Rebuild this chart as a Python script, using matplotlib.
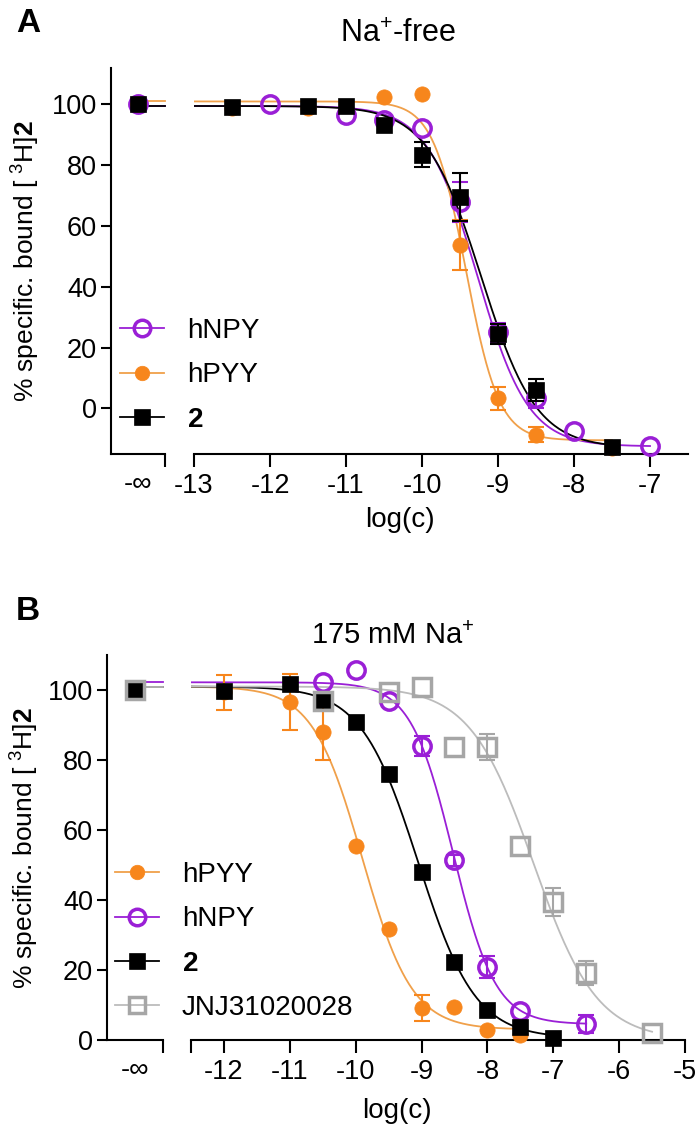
import numpy as np
import matplotlib.pyplot as plt
from matplotlib.lines import Line2D

plt.rcParams['font.family'] = ['Liberation Sans', 'DejaVu Sans']
plt.rcParams['mathtext.fontset'] = 'custom'
plt.rcParams['mathtext.rm'] = 'Liberation Sans'
plt.rcParams['mathtext.it'] = 'Liberation Sans:italic'
plt.rcParams['mathtext.bf'] = 'Liberation Sans:bold'
plt.rcParams['axes.unicode_minus'] = False
plt.rcParams['font.size'] = 19.5

PURPLE = '#9a1fd6'
ORANGE = '#f7861c'
ORANGE_LINE = '#f0a04a'
GREY = '#a6a6a6'
GREY_LINE = '#bcbcbc'

# ---- panel A: Na+-free ----
a_npy_x = [-12, -11, -10.5, -10, -9.5, -9, -8.5, -8, -7]
a_npy_y = [100, 96.7, 95, 92.4, 68, 25, 3.3, -7.3, -12.5]
a_npy_err = [0, 0, 0, 0, 6.6, 3, 3.3, 0, 0]
a_npy_inf = 100
a_npy_fit = (99.5, -12.5, -9.27, 1.3)   # top, bottom, logIC50, hill

a_pyy_x = [-12.5, -11.5, -10.5, -10, -9.5, -9, -8.5, -7.5]
a_pyy_y = [99, 99, 102.6, 103.5, 53.8, 3.3, -8.6, -13]
a_pyy_err = [0, 0, 0, 0, 8.3, 3.7, 2.4, 0]
a_pyy_inf = 100
a_pyy_fit = (101, -10.5, -9.42, 2.0)

a_two_x = [-12.5, -11.5, -11, -10.5, -10, -9.5, -9, -8.5, -7.5]
a_two_y = [99.3, 99.5, 99.5, 93.4, 83.5, 69.6, 24.4, 6, -12.8]
a_two_err = [0, 0, 0, 0, 4, 7.8, 3.3, 3.6, 0]
a_two_inf = 100
a_two_fit = (99.5, -13, -9.22, 1.2)

# ---- panel B: 175 mM Na+ ----
b_pyy_x = [-12, -11, -10.5, -10, -9.5, -9, -8.5, -8, -7.5]
b_pyy_y = [99.4, 96.6, 88, 55.3, 31.8, 9.2, 9.5, 2.9, 1.4]
b_pyy_err = [5, 8, 8, 0, 0, 3.7, 0, 0, 0]
b_pyy_inf = 100
b_pyy_fit = (101, 3, -9.9, 1.15)

b_npy_x = [-10.5, -10, -9.5, -9, -8.5, -8, -7.5, -6.5]
b_npy_y = [102.2, 105.7, 96.8, 84, 51.3, 20.9, 8.3, 4.6]
b_npy_err = [0, 0, 0, 2.8, 1.5, 3.1, 0, 2.6]
b_npy_inf = 100
b_npy_fit = (102.2, 4.5, -8.52, 1.35)

b_two_x = [-12, -11, -10.5, -10, -9.5, -9, -8.5, -8, -7.5, -7]
b_two_y = [99.7, 101.7, 97.1, 90.8, 75.9, 47.9, 22.3, 8.6, 3.8, 0.5]
b_two_err = [0, 0, 0, 0, 0, 0, 0, 0, 0, 0]
b_two_inf = 100
b_two_fit = (101, 0.5, -9.05, 1.0)

b_jnj_x = [-10.5, -9.5, -9, -8.5, -8, -7.5, -7, -6.5, -5.5]
b_jnj_y = [96.8, 99.4, 100.9, 83.7, 83.7, 55.3, 39.5, 19.2, 2]
b_jnj_err = [0, 0, 0, 0, 3.7, 0, 4, 3.5, 0]
b_jnj_inf = 100
b_jnj_fit = (101, 0, -7.3, 0.9)

a_xticks = [-13, -12, -11, -10, -9, -8, -7]
b_xticks = [-12, -11, -10, -9, -8, -7, -6, -5]
yticks = [0, 20, 40, 60, 80, 100]

STYLES = {
    'npy': dict(color=PURPLE, line=PURPLE, marker='o', ms=12.5, mfc='none',
                mew=2.5, label='hNPY'),
    'pyy': dict(color=ORANGE, line=ORANGE_LINE, marker='o', ms=11, mfc=ORANGE,
                mew=0.5, label='hPYY'),
    'two': dict(color='black', line='black', marker='s', ms=11.5,
                mfc='black', mew=0.5, label=r'$\mathbf{2}$'),
    'jnj': dict(color=GREY, line=GREY_LINE, marker='s', ms=12.5, mfc='none',
                mew=2.5, label='JNJ31020028'),
}


def four_pl(x, top, bottom, logic50, hill):
    return bottom + (top - bottom) / (1 + 10 ** ((x - logic50) * hill))


def setup_axes(fig, rect_inf, rect_main, xlim, ylim, xticks, end_tick=None):
    ax_inf = fig.add_axes(rect_inf)
    ax_main = fig.add_axes(rect_main)
    for ax in (ax_inf, ax_main):
        ax.set_ylim(ylim)
        ax.spines['top'].set_visible(False)
        ax.spines['right'].set_visible(False)
        ax.spines['bottom'].set_linewidth(1.5)
        ax.spines['left'].set_linewidth(1.5)
        ax.patch.set_visible(False)
    ax_inf.set_xlim(0, 1)
    ax_inf.set_xticks([1.0])
    ax_inf.set_xticklabels([''])
    ax_inf.set_xticks([0.5], minor=True)
    ax_inf.set_xticklabels(['-∞'], minor=True)
    ax_inf.tick_params(axis='x', which='major', length=9, width=1.5)
    ax_inf.tick_params(axis='x', which='minor', length=0, pad=12)
    ax_inf.set_yticks(yticks)
    ax_inf.tick_params(axis='y', length=7, width=1.5, pad=3)

    ax_main.spines['left'].set_visible(False)
    ax_main.set_xlim(xlim)
    ax_main.set_xticks(xticks)
    ax_main.set_xticklabels([str(t) for t in xticks])
    if end_tick is not None:
        ax_main.set_xticks([end_tick], minor=True)
    ax_main.tick_params(axis='x', which='both', length=9, width=1.5, pad=5)
    ax_main.set_yticks([])
    return ax_inf, ax_main


def draw_series(ax_inf, ax_main, key, x, y, err, inf_y, fit, x0, z):
    st = STYLES[key]
    xs = np.linspace(x0, max(x), 300)
    ax_main.plot(xs, four_pl(xs, *fit), color=st['line'], lw=1.3, zorder=2)
    ax_inf.plot([0.5, 1.0], [fit[0], fit[0]], color=st['line'], lw=1.3,
                zorder=2, clip_on=False)
    x = np.array(x)
    y = np.array(y)
    err = np.array(err)
    keep = err > 0
    if keep.any():
        ax_main.errorbar(x[keep], y[keep], yerr=err[keep], fmt='none',
                         ecolor=st['color'], elinewidth=1.5, capsize=6,
                         capthick=1.5, clip_on=False, zorder=z)
    mk = dict(ls='none', marker=st['marker'], ms=st['ms'], mfc=st['mfc'],
              mec=st['color'], mew=st['mew'], clip_on=False, zorder=z + 0.5)
    ax_main.plot(x, y, **mk)
    ax_inf.plot([0.5], [inf_y], **mk)


def proxy(key):
    st = STYLES[key]
    return Line2D([], [], color=st['line'], lw=1.3, marker=st['marker'],
                  ms=st['ms'] * 0.95, mfc=st['mfc'], mec=st['color'],
                  mew=st['mew'], label=st['label'])


def main():
    W, H = 698, 1130
    fig = plt.figure(figsize=(W / 100, H / 100), dpi=100)

    # panel A geometry (pixels -> figure fraction)
    a_bot, a_top = 1 - 454 / H, 1 - 68 / H
    ax_ai, ax_am = setup_axes(
        fig, [111 / W, a_bot, 54 / W, a_top - a_bot],
        [194 / W, a_bot, 494 / W, a_top - a_bot],
        (-13, -6.5), (-15, 112), a_xticks)
    draw_series(ax_ai, ax_am, 'npy', a_npy_x, a_npy_y, a_npy_err, a_npy_inf,
                a_npy_fit, -13, 4)
    draw_series(ax_ai, ax_am, 'pyy', a_pyy_x, a_pyy_y, a_pyy_err, a_pyy_inf,
                a_pyy_fit, -13, 5)
    draw_series(ax_ai, ax_am, 'two', a_two_x, a_two_y, a_two_err, a_two_inf,
                a_two_fit, -13, 6)

    # panel B geometry
    b_bot, b_top = 1 - 1040 / H, 1 - 655 / H
    ax_bi, ax_bm = setup_axes(
        fig, [107 / W, b_bot, 56 / W, b_top - b_bot],
        [191 / W, b_bot, 494 / W, b_top - b_bot],
        (-12.5, -5), (0, 110), b_xticks, end_tick=-12.5)
    draw_series(ax_bi, ax_bm, 'pyy', b_pyy_x, b_pyy_y, b_pyy_err, b_pyy_inf,
                b_pyy_fit, -12.5, 4)
    draw_series(ax_bi, ax_bm, 'npy', b_npy_x, b_npy_y, b_npy_err, b_npy_inf,
                b_npy_fit, -12.5, 5)
    draw_series(ax_bi, ax_bm, 'two', b_two_x, b_two_y, b_two_err, b_two_inf,
                b_two_fit, -12.5, 6)
    draw_series(ax_bi, ax_bm, 'jnj', b_jnj_x, b_jnj_y, b_jnj_err, b_jnj_inf,
                b_jnj_fit, -12.5, 7)

    leg_kw = dict(loc='upper left', frameon=False, borderpad=0,
                  borderaxespad=0, handlelength=1.6, handletextpad=0.8,
                  labelspacing=0.66, fontsize=20)
    fig.legend(handles=[proxy('npy'), proxy('pyy'), proxy('two')],
               bbox_to_anchor=(120 / W, 1 - 318 / H), **leg_kw)
    fig.legend(handles=[proxy('pyy'), proxy('npy'), proxy('two'),
                        proxy('jnj')],
               bbox_to_anchor=(115 / W, 1 - 862 / H), **leg_kw)

    ylab = r'% specific. bound [ $^{3}$H]$\mathbf{2}$'
    fig.text(26 / W, 1 - 261 / H, ylab, rotation=90, ha='center',
             va='center', fontsize=19)
    fig.text(25 / W, 1 - 848 / H, ylab, rotation=90, ha='center',
             va='center', fontsize=19)
    fig.text(400 / W, 1 - 520 / H, 'log(c)', ha='center', va='center',
             fontsize=20)
    fig.text(397 / W, 1 - 1111 / H, 'log(c)', ha='center', va='center',
             fontsize=20)
    fig.text(398 / W, 1 - 34 / H, r'Na$^{+}$-free', ha='center',
             va='center', fontsize=22)
    fig.text(393 / W, 1 - 636 / H, r'175 mM Na$^{+}$', ha='center',
             va='center', fontsize=21)
    fig.text(28 / W, 1 - 24 / H, 'A', ha='center', va='center',
             fontsize=24, fontweight='bold')
    fig.text(28 / W, 1 - 611 / H, 'B', ha='center', va='center',
             fontsize=24, fontweight='bold')

    fig.savefig('out.png', dpi=100)


if __name__ == "__main__":
    main()
